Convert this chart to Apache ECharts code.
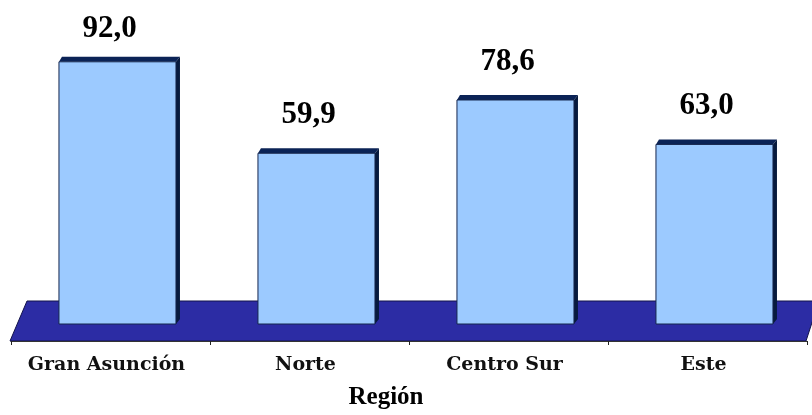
<!DOCTYPE html>
<html>
<head>
<meta charset="utf-8">
<script src="https://cdn.jsdelivr.net/npm/echarts@6/dist/echarts.min.js"></script>
<style>
  html, body { margin: 0; padding: 0; background: #fff; }
  #main { width: 812px; height: 415px; }
</style>
</head>
<body>
<div id="main"></div>
<script>
const regiones = ["Gran Asunción", "Norte", "Centro Sur", "Este"];
const valores = [92.0, 59.9, 78.6, 63.0];

const chart = echarts.init(document.getElementById("main"));

// bar with a dark top/right edge to look 3d
function renderBar(params, api) {
  const i = api.value(0);
  const v = api.value(1);
  const top = api.coord([i, v]);
  const base = api.coord([i, 0]);
  const bw = api.size([1, 0])[0];
  const left = top[0] - 0.259 * bw;
  const w = 0.588 * bw;
  const right = left + w;
  const dx = 4, dy = -5;
  // label stays inside the plot area like the original
  const ly = Math.max(top[1] - 38, params.coordSys.y - 10);
  return {
    type: "group",
    children: [
      {
        type: "polygon",
        shape: { points: [[left, top[1]], [left + dx - 1, top[1] + dy], [right + dx, top[1] + dy], [right, top[1]]] },
        style: { fill: "#0b2356" },
      },
      {
        type: "polygon",
        shape: { points: [[right, top[1]], [right + dx, top[1] + dy], [right + dx, base[1] + dy], [right, base[1]]] },
        style: { fill: "#071a3e" },
      },
      {
        type: "rect",
        shape: { x: left, y: top[1], width: w, height: base[1] - top[1] },
        style: { fill: "#9ccaff", stroke: "#15264d", lineWidth: 1 },
      },
      {
        type: "text",
        style: {
          x: top[0] - 1,
          y: ly,
          text: v.toFixed(1).replace(".", ","),
          font: "bold 31px 'Liberation Serif'",
          fill: "#000",
          align: "center",
          verticalAlign: "middle",
        },
      },
    ],
  };
}

// dark blue floor under the bars
function renderFloor(params, api) {
  const cs = params.coordSys;
  const yb = api.coord([0, 0])[1];
  return {
    type: "polygon",
    shape: {
      points: [
        [cs.x + 16, yb - 23],
        [cs.x + cs.width + 12, yb - 23],
        [cs.x + cs.width - 1, yb + 17],
        [cs.x - 1, yb + 17],
      ],
    },
    style: { fill: "#2c2ca4", stroke: "#12124a", lineWidth: 1 },
  };
}

const option = {
  animation: false,
  grid: { left: 11, right: 5, top: 39, bottom: 91 },
  xAxis: {
    type: "category",
    data: regiones,
    offset: 17,
    z: 5,
    axisLine: { onZero: false, lineStyle: { color: "#333", width: 1 } },
    axisTick: { show: true, length: 4, lineStyle: { color: "#222" } },
    axisLabel: {
      interval: 0,
      margin: 15,
      color: "#111",
      fontFamily: "DejaVu Serif",
      fontWeight: "bold",
      fontSize: 19,
      padding: [0, 8, 0, 0],
    },
  },
  yAxis: { type: "value", min: 0, max: 100, show: false },
  graphic: [
    {
      type: "text",
      x: 386,
      y: 385,
      style: {
        text: "Región",
        font: "bold 25px 'Liberation Serif'",
        fill: "#000",
        align: "center",
      },
    },
  ],
  series: [
    {
      type: "custom",
      z: 1,
      data: [[0]],
      renderItem: renderFloor,
      silent: true,
    },
    {
      type: "custom",
      z: 2,
      data: valores.map((v, i) => [i, v]),
      encode: { x: 0, y: 1 },
      renderItem: renderBar,
    },
  ],
};

chart.setOption(option);
</script>
</body>
</html>
